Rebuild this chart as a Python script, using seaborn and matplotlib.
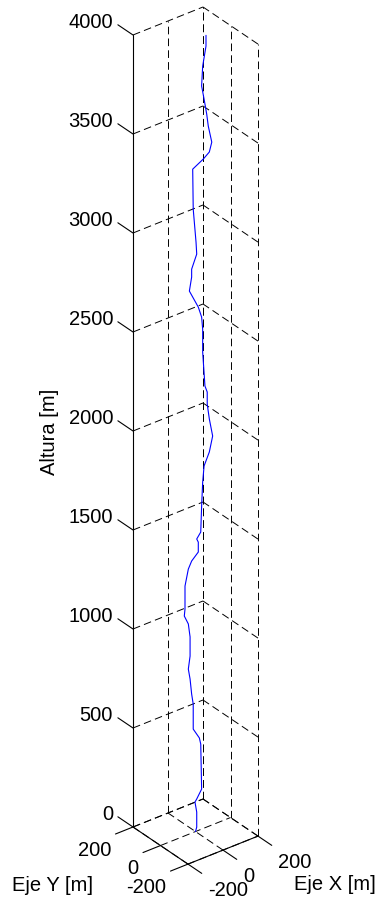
import matplotlib
matplotlib.use('Agg')
import numpy as np
import seaborn as sns
import matplotlib.pyplot as plt
from mpl_toolkits.mplot3d import proj3d

sns.set_style('white')
plt.rcParams['font.family'] = ['Liberation Sans', 'DejaVu Sans']
plt.rcParams['text.color'] = 'black'
plt.rcParams['lines.scale_dashes'] = False

# trayectoria del pozo
altura = [0, 20, 96, 150, 162, 202, 431, 465, 522, 648, 702, 781, 835, 897, 994,
          1063, 1111, 1145, 1261, 1340, 1374, 1406, 1456, 1475, 1502, 1631, 1750,
          1829, 1889, 1963, 2056, 2135, 2196, 2231, 2407, 2523, 2586, 2643, 2742,
          2808, 2848, 2914, 2976, 3148, 3351, 3381, 3404, 3449, 3537, 3601, 3682,
          3753, 3851, 3946, 4000]
eje_x = [0, 7, 7, -3, 7, 35, 30, 22, -13, -13, -22, -31, -41, -31, -31,
         -41, -64, -60, -60, -41, -22, 16, 16, 7, 30, 35, 41,
         49, 79, 98, 79, 67, 67, 54, 41, 41, 35, 16, -35,
         -22, -22, 7, 3, -13, -16, 45, 79, 93, 73, 64, 49,
         35, 41, 60, 60]
eje_y = [0, 0, 0, 0, 0, 0, 0, 0, 0, 0, 0, 0, 0, 0, 0,
         0, 0, 0, 0, 0, 0, 0, 0, 0, 0, 0, 0,
         0, 0, 0, 0, 0, 0, 0, 0, 0, 0, 0, 0,
         0, 0, 0, 0, 0, 0, 0, 0, 0, 0, 0, 0,
         0, 0, 0, 0]

x_ticks = [-200, 0, 200]
y_ticks = [-200, 0, 200]
z_ticks = [0, 500, 1000, 1500, 2000, 2500, 3000, 3500, 4000]
x0, x1 = -200, 200
y0, y1 = -200, 200
z0, z1 = 0, 4000

W, H = 378, 904
fig = plt.figure(figsize=(W / 100, H / 100), dpi=100)
ax = fig.add_axes([(W - H) / 2 / W, 0, H / W, 1], projection='3d',
                  proj_type='ortho', computed_zorder=False)
ax.set_axis_off()
ax.view_init(elev=31.3, azim=-127.6)
aspect = (1.0, 1.02, 10.49)

grid_kw = dict(color='black', lw=0.7, ls=(0, (5.5, 3)), clip_on=False, zorder=1)
axis_kw = dict(color='black', lw=0.8, clip_on=False, zorder=2)

# rejilla en las paredes del fondo y el suelo
for z in z_ticks:
    ax.plot([x0, x1], [y1, y1], [z, z], **grid_kw)
    ax.plot([x1, x1], [y0, y1], [z, z], **grid_kw)
for x in x_ticks:
    ax.plot([x, x], [y1, y1], [z0, z1], **grid_kw)
    ax.plot([x, x], [y0, y1], [z0, z0], **grid_kw)
for y in y_ticks:
    ax.plot([x1, x1], [y, y], [z0, z1], **grid_kw)
    ax.plot([x0, x1], [y, y], [z0, z0], **grid_kw)

# ejes y marcas
ax.plot([x0, x0], [y1, y1], [z0, z1], **axis_kw)
ax.plot([x0, x0], [y0, y1], [z0, z0], **axis_kw)
ax.plot([x0, x1], [y0, y0], [z0, z0], **axis_kw)

labels = []  # (x, y, z, texto, ha, va, rotacion)
for z in z_ticks:
    ax.plot([x0, x0], [y1, y1 + 110], [z, z], **axis_kw)
    labels.append((x0, y1 + 145, z, str(z), 'right', 'center', 0))
for y in y_ticks:
    ax.plot([x0, x0 - 100], [y, y], [z0, z0], **axis_kw)
    labels.append((x0 - 126, y, z0 - 67, str(y), 'right', 'center', 0))
for x in x_ticks:
    ax.plot([x, x], [y0, y0 - 100], [z0, z0], **axis_kw)
    labels.append((x, y0 - 145, z0 - 59, str(x), 'left', 'center', 0))
labels.append((-817, 0, 20, 'Eje Y [m]', 'center', 'center', 0))
labels.append((0, -1015, 212, 'Eje X [m]', 'center', 'center', 0))
labels.append((x0, 804, 1717, 'Altura [m]', 'center', 'center', 90))

ax.plot(eje_x, eje_y, altura, color='blue', lw=0.8, clip_on=False, zorder=3)

ax.set_xlim(x0, x1)
ax.set_ylim(y0, y1)
ax.set_zlim(z0, z1)


def to_px(x, y, z):
    xs, ys, _ = proj3d.proj_transform(x, y, z, ax.get_proj())
    px, py = ax.transData.transform((xs, ys))
    return px, H - py


# ajustar escala y posicion para que la caja caiga donde en la figura original
zoom = 1.0
for _ in range(3):
    ax.set_box_aspect(aspect, zoom=zoom)
    fig.canvas.draw()
    pa = to_px(x0, y1, z0)
    pt = to_px(x0, y1, z1)
    zoom *= (828 - 36) / (pa[1] - pt[1])
    ax.set_box_aspect(aspect, zoom=zoom)
    fig.canvas.draw()
    pa = to_px(x0, y1, z0)
    pos = ax.get_position()
    ax.set_position([pos.x0 + (133 - pa[0]) / W, pos.y0 - (828 - pa[1]) / H,
                     pos.width, pos.height])
fig.canvas.draw()

for x, y, z, s, ha, va, rot in labels:
    px, py = to_px(x, y, z)
    fig.text(px / W, 1 - py / H, s, ha=ha, va=va, rotation=rot, fontsize=14.5)

fig.savefig('out.png', dpi=100)
